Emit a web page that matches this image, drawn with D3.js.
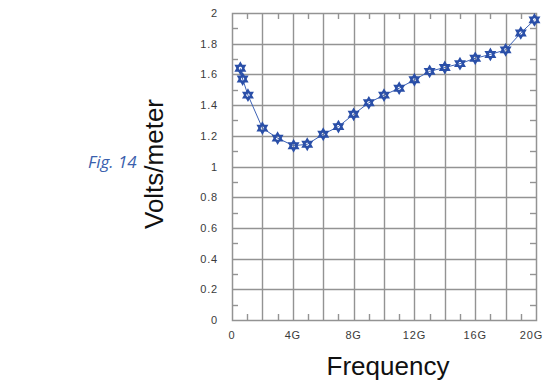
<!DOCTYPE html>
<html>
<head>
<meta charset="utf-8">
<script src="https://cdn.jsdelivr.net/npm/d3@7"></script>
<style>
  body { margin: 0; background: #fff; }
</style>
</head>
<body>
<div id="chart"></div>
<script>
// frequency in GHz, field strength in V/m
const freqs = [0.55, 0.7, 1.05, 2, 3, 4.05, 4.95, 6, 7, 8, 9, 10, 11, 12, 13, 14, 15, 16, 17, 18, 19, 19.9];
const volts = [1.64, 1.57, 1.465, 1.25, 1.185, 1.135, 1.145, 1.21, 1.26, 1.34, 1.415, 1.465, 1.51, 1.565, 1.62, 1.645, 1.67, 1.705, 1.73, 1.76, 1.87, 1.955];
const xTickLabels = ['0', '4G', '8G', '12G', '16G', '20G'];
const yTickValues = [0, 0.2, 0.4, 0.6, 0.8, 1, 1.2, 1.4, 1.6, 1.8, 2];

(function () {
const width = 543, height = 383;
const plot = { left: 232, right: 536, top: 13, bottom: 320 };

const svg = d3.select('#chart').append('svg')
    .attr('width', width)
    .attr('height', height);

const x = d3.scaleLinear().domain([0, 20]).range([plot.left, plot.right]);
const y = d3.scaleLinear().domain([0, 2]).range([plot.bottom, plot.top]);
const px = v => Math.round(v) + 0.5;

const gridColor = '#939393';
const tickFont = "'Liberation Sans', Arial, sans-serif";

// grid lines
const grid = svg.append('g').attr('stroke', gridColor).attr('stroke-width', 1.4);
grid.selectAll('.vx')
    .data(d3.range(2, 20, 2))
    .join('line')
    .attr('x1', d => px(x(d))).attr('x2', d => px(x(d)))
    .attr('y1', plot.top).attr('y2', plot.bottom);
grid.selectAll('.hy')
    .data(yTickValues.slice(1, -1))
    .join('line')
    .attr('x1', plot.left).attr('x2', plot.right)
    .attr('y1', d => px(y(d))).attr('y2', d => px(y(d)));

// minor ticks, inside the frame
const minor = svg.append('g').attr('stroke', gridColor).attr('stroke-width', 1.4);
const oddG = d3.range(1, 20, 2);
const oddV = d3.range(0.1, 2, 0.2);
minor.selectAll('.tb').data(oddG).join('line')
    .attr('x1', d => px(x(d))).attr('x2', d => px(x(d)))
    .attr('y1', plot.bottom).attr('y2', plot.bottom - 6);
minor.selectAll('.tt').data(oddG).join('line')
    .attr('x1', d => px(x(d))).attr('x2', d => px(x(d)))
    .attr('y1', plot.top).attr('y2', plot.top + 6);
minor.selectAll('.tl').data(oddV).join('line')
    .attr('x1', plot.left).attr('x2', plot.left + 6)
    .attr('y1', d => px(y(d))).attr('y2', d => px(y(d)));
minor.selectAll('.tr').data(oddV).join('line')
    .attr('x1', plot.right).attr('x2', plot.right - 6)
    .attr('y1', d => px(y(d))).attr('y2', d => px(y(d)));

// frame
svg.append('rect')
    .attr('x', plot.left + 0.5).attr('y', plot.top + 0.5)
    .attr('width', plot.right - plot.left).attr('height', plot.bottom - plot.top)
    .attr('fill', 'none')
    .attr('stroke', gridColor)
    .attr('stroke-width', 1.5);

// tick labels
svg.append('g')
    .attr('font-family', tickFont)
    .attr('font-size', 11)
    .attr('letter-spacing', 0.8)
    .attr('fill', '#3a3a3a')
    .attr('text-anchor', 'end')
    .selectAll('text')
    .data(yTickValues)
    .join('text')
    .attr('x', plot.left - 14)
    .attr('y', d => y(d) + 4)
    .text(d => d3.format('~g')(d));

// last label would run off the page, so it ends at the edge
const lastX = xTickLabels.length - 1;
svg.append('g')
    .attr('font-family', tickFont)
    .attr('font-size', 11)
    .attr('letter-spacing', 0.8)
    .attr('fill', '#3a3a3a')
    .selectAll('text')
    .data(xTickLabels)
    .join('text')
    .attr('text-anchor', (d, i) => i === lastX ? 'end' : 'middle')
    .attr('x', (d, i) => i === lastX ? width : x(i * 4))
    .attr('y', plot.bottom + 19)
    .text(d => d);

// axis titles
svg.append('text')
    .attr('x', 388).attr('y', 375)
    .attr('text-anchor', 'middle')
    .attr('font-family', tickFont)
    .attr('font-size', 26)
    .attr('fill', '#111')
    .text('Frequency');

svg.append('text')
    .attr('transform', 'translate(163,164) rotate(-90)')
    .attr('text-anchor', 'middle')
    .attr('font-family', tickFont)
    .attr('font-size', 26)
    .attr('fill', '#111')
    .text('Volts/meter');

svg.append('text')
    .attr('x', 88).attr('y', 168)
    .attr('font-family', "'Open Sans', 'Noto Sans', sans-serif")
    .attr('font-style', 'italic')
    .attr('font-size', 17)
    .attr('fill', '#3a5fad')
    .text('Fig. 14');

// data line
const pts = freqs.map((f, i) => [x(f), y(volts[i])]);
svg.append('path')
    .datum(pts)
    .attr('d', d3.line())
    .attr('fill', 'none')
    .attr('stroke', '#3d62b5')
    .attr('stroke-width', 1);

// star-of-david markers
const tri = (r, up) => {
  const a0 = up ? -Math.PI / 2 : Math.PI / 2;
  return d3.range(3).map(k => {
    const a = a0 + k * 2 * Math.PI / 3;
    return [r * Math.cos(a), r * Math.sin(a)];
  });
};
const markers = svg.append('g').selectAll('g')
    .data(pts)
    .join('g')
    .attr('transform', d => `translate(${d[0]},${d[1]})`);
[true, false].forEach(up => {
  markers.append('polygon')
      .attr('points', tri(5, up).map(p => p.join(',')).join(' '))
      .attr('fill', 'none')
      .attr('stroke', '#2a4fa8')
      .attr('stroke-width', 1.9);
});
})();
</script>
</body>
</html>
